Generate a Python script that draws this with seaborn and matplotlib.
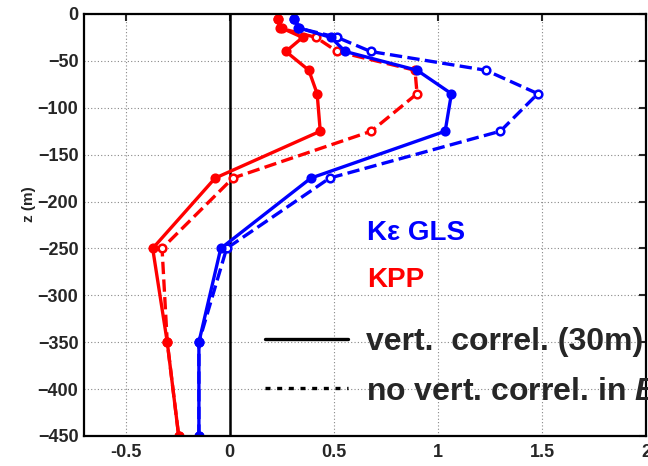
import matplotlib
matplotlib.use("Agg")
import matplotlib.pyplot as plt
import seaborn as sns
import pandas as pd
from matplotlib.lines import Line2D

# ---- data ----
depth = [-5, -15, -25, -40, -60, -85, -125, -175, -250, -350, -450]
kpp_corr = [0.23, 0.25, 0.35, 0.27, 0.38, 0.42, 0.435, -0.07, -0.37, -0.30, -0.245]
kpp_nocorr = [0.23, 0.24, 0.415, 0.516, 0.89, 0.90, 0.68, 0.015, -0.325, -0.30, -0.245]
gls_corr = [0.31, 0.335, 0.486, 0.555, 0.90, 1.065, 1.035, 0.39, -0.043, -0.148, -0.148]
gls_nocorr = [0.31, 0.33, 0.517, 0.677, 1.23, 1.48, 1.30, 0.48, -0.015, -0.148, -0.148]
xticks = [-0.5, 0, 0.5, 1, 1.5, 2]
xticklabels = ["-0.5", "0", "0.5", "1", "1.5", "2"]
yticks = [0, -50, -100, -150, -200, -250, -300, -350, -400, -450]

sns.set_style("white")
plt.rcParams["font.family"] = ["Liberation Sans", "DejaVu Sans"]
plt.rcParams["font.weight"] = "bold"
plt.rcParams["mathtext.fontset"] = "custom"
plt.rcParams["mathtext.it"] = "Liberation Sans:italic:bold"
plt.rcParams["mathtext.rm"] = "Liberation Sans:bold"

fig = plt.figure(figsize=(6.48, 4.66), dpi=100)
ax = fig.add_axes([0.1296, 0.0644, 0.8674, 0.9056])

df = pd.DataFrame({"z": depth, "kpp_corr": kpp_corr, "kpp_nocorr": kpp_nocorr,
                   "gls_corr": gls_corr, "gls_nocorr": gls_nocorr})

red = "#ff0000"
blue = "#0000ff"

series = [
    ("kpp_nocorr", red, "--", "white"),
    ("kpp_corr", red, "-", red),
    ("gls_nocorr", blue, "--", "white"),
    ("gls_corr", blue, "-", blue),
]
for col, c, ls, mfc in series:
    kw = dict(dashes=(2.6, 1.6)) if ls == "--" else {}
    sns.lineplot(data=df, x=col, y="z", orient="y", sort=False, estimator=None,
                 ax=ax, color=c, linestyle=ls, linewidth=2.4, marker="o",
                 markersize=5.5, markerfacecolor=mfc, markeredgecolor=c,
                 markeredgewidth=1.8, **kw)

ax.axvline(0, color="black", linewidth=1.8, zorder=1)

ax.set_xlim(-0.7, 2.0)
ax.set_ylim(-450, 0)
ax.set_xticks(xticks)
ax.set_xticklabels(xticklabels)
ax.set_yticks(yticks)
ax.set_xlabel("")
ax.set_ylabel("z (m)", fontsize=11, fontweight="bold")
ax.yaxis.set_label_coords(-0.085, 0.55)
ax.grid(True, linestyle=(0, (1, 2)), color="#888888", linewidth=0.8)
ax.tick_params(axis="both", direction="in", length=5, width=1.5, top=True, right=True,
               labelsize=13)
ax.tick_params(axis="y", pad=4)
ax.tick_params(axis="x", pad=6)
for lab in ax.get_xticklabels() + ax.get_yticklabels():
    lab.set_fontweight("bold")
for sp in ax.spines.values():
    sp.set_linewidth(1.6)
    sp.set_color("black")

ax.text(0.5036, 0.4645, "K\u03b5 GLS", transform=ax.transAxes, color=blue,
        fontsize=20, fontweight="bold", va="baseline", ha="left")
ax.text(0.5036, 0.352, "KPP", transform=ax.transAxes, color=red,
        fontsize=20, fontweight="bold", va="baseline", ha="left")

handles = [Line2D([], [], color="black", linewidth=2.4, linestyle="-"),
           Line2D([], [], color="black", linewidth=2.4, linestyle=(0, (1.5, 2.0)))]
labels = ["vert.  correl. (30m)", "no vert. correl. in $B$"]
leg = fig.legend(handles, labels, loc="center left", bbox_to_anchor=(0.409, 0.2125),
                 frameon=False, handlelength=2.6, handletextpad=0.55,
                 borderpad=0, borderaxespad=0, labelspacing=0.6,
                 prop={"weight": "bold", "size": 23})

fig.savefig("out.png", dpi=100)
